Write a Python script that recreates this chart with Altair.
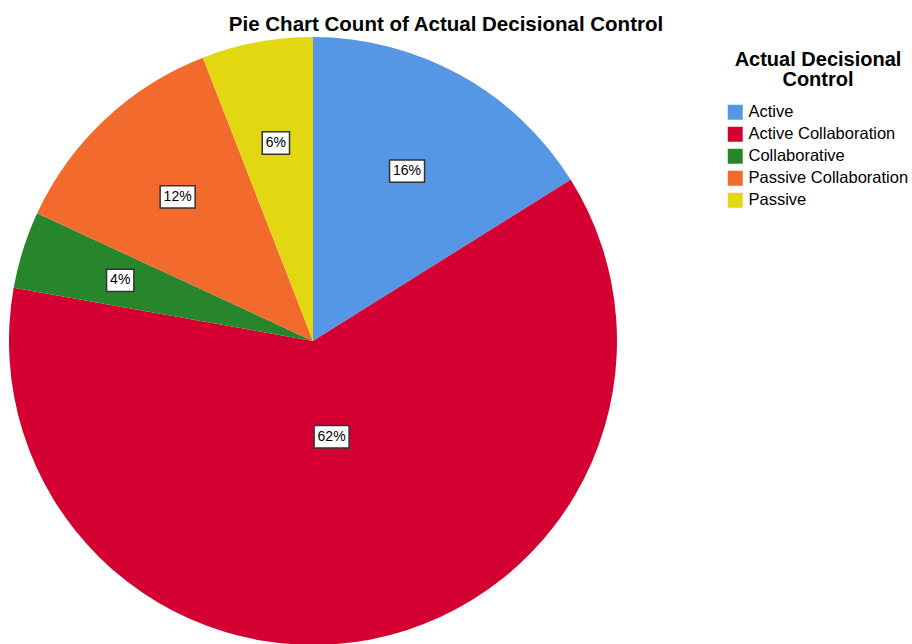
import altair as alt
import pandas as pd

categories = ["Active", "Active Collaboration", "Collaborative", "Passive Collaboration", "Passive"]
percents = [16.1, 61.7, 4.1, 12.2, 5.9]
labels = ["16%", "62%", "4%", "12%", "6%"]
colors = ["#5597e5", "#d50032", "#27862b", "#f26a2c", "#e2d711"]

df = pd.DataFrame({
    "cat": categories,
    "pct": percents,
    "label": labels,
    "order": list(range(len(categories))),
})

R = 304
FONT = "Liberation Sans"

base = alt.Chart(df)

arcs = base.mark_arc(outerRadius=R).encode(
    theta=alt.Theta("pct:Q", stack=True),
    order=alt.Order("order:Q", sort="ascending"),
    color=alt.Color(
        "cat:N",
        scale=alt.Scale(domain=categories, range=colors),
        sort=categories,
        legend=alt.Legend(
            title=["Actual Decisional", "Control"],
            orient="none",
            legendX=718,
            legendY=13,
            titleFont=FONT,
            titleFontSize=20,
            titleFontWeight="bold",
            titleColor="#000000",
            titleAlign="center",
            titleAnchor="middle",
            titleLineHeight=20,
            titlePadding=14,
            labelFont=FONT,
            labelFontSize=16.5,
            labelColor="#000000",
            labelOffset=5,
            labelLimit=400,
            symbolType="square",
            symbolSize=225,
            symbolStrokeWidth=0,
            symbolOpacity=1,
            rowPadding=5,
        ),
    ),
)

pos = base.transform_window(
    cum="sum(pct)", sort=[{"field": "order"}], frame=[None, 0]
).transform_calculate(
    alpha="datum.pct / 100 * 2 * PI",
    mid="(datum.cum - datum.pct / 2) / 100 * 2 * PI",
).transform_calculate(
    rr="2 * sin(datum.alpha / 2) / (1.5 * datum.alpha)",
).transform_calculate(
    px="datum.rr * sin(datum.mid)",
    py="datum.rr * cos(datum.mid)",
    nchar="length(datum.label)",
)

xenc = alt.X("px:Q", scale=alt.Scale(domain=[-1, 1], nice=False, zero=False), axis=None)
yenc = alt.Y("py:Q", scale=alt.Scale(domain=[-1, 1], nice=False, zero=False), axis=None)

boxes = pos.mark_point(filled=True, fill="white", stroke="#333333", strokeWidth=1.5, opacity=1, size=1225).encode(
    x=xenc,
    y=yenc,
    shape=alt.Shape(
        "nchar:O",
        scale=alt.Scale(
            domain=[2, 3],
            range=["M-0.78,-0.64H0.78V0.64H-0.78Z", "M-1,-0.64H1V0.64H-1Z"],
        ),
        legend=None,
    ),
)

texts = pos.mark_text(font=FONT, fontSize=14, color="#000000", align="center", baseline="middle").encode(
    x=xenc,
    y=yenc,
    text="label:N",
)

chart = alt.layer(arcs, boxes, texts).resolve_scale(color="independent").properties(
    width=2 * R,
    height=2 * R,
    autosize=alt.AutoSizeParams(type="none"),
    padding={"left": 9, "top": 37, "right": 295, "bottom": 0},
    background="white",
    title=alt.TitleParams(
        "Pie Chart Count of Actual Decisional Control",
        font=FONT,
        fontSize=20.5,
        fontWeight="bold",
        color="#000000",
        anchor="middle",
        dx=133,
        dy=23,
        offset=9,
        limit=1000,
        baseline="alphabetic",
    ),
).configure_view(stroke=None)

chart.save("out.html", embed_options={"renderer": "svg", "actions": False})
